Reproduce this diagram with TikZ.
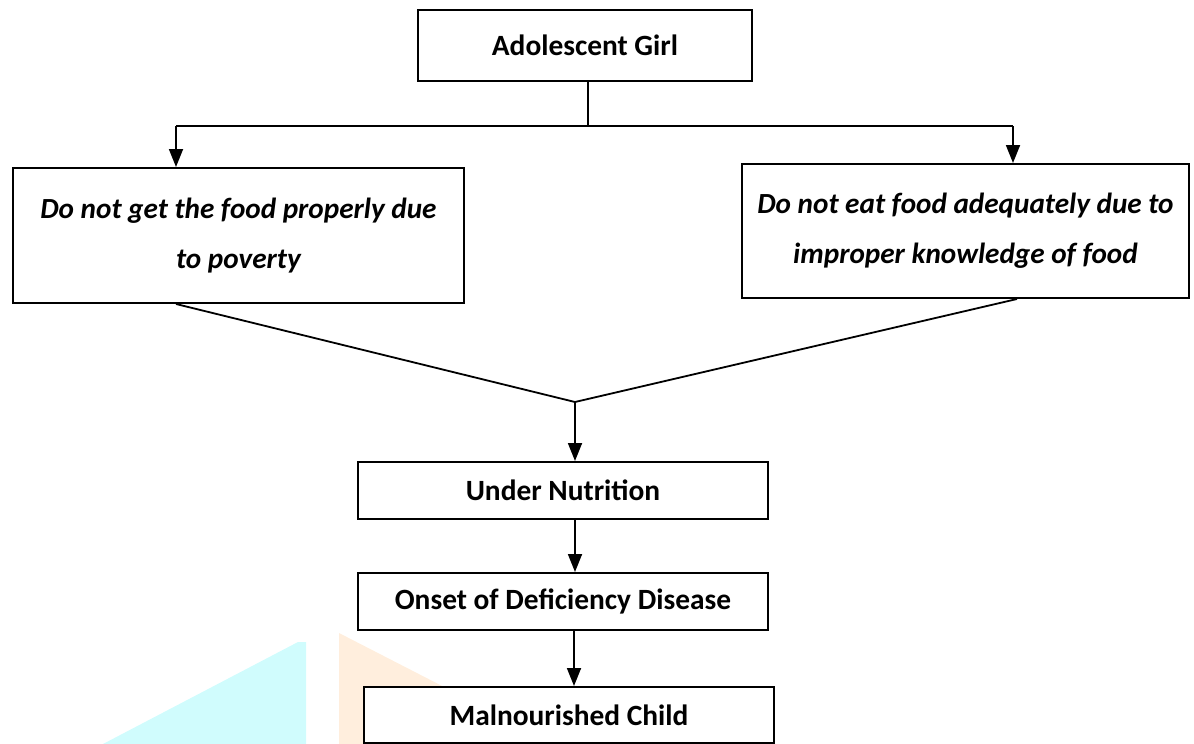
\documentclass[tikz,border=0pt]{standalone}
\usepackage{fontspec}
\setmainfont{Carlito}
\usetikzlibrary{arrows.meta}
\definecolor{markcyan}{RGB}{208,252,253}
\definecolor{markorange}{RGB}{255,238,221}

\begin{document}
\begin{tikzpicture}[x=0.5pt,y=-0.5pt,
  box/.style={draw,line width=1pt,fill=white,inner sep=0pt,align=center},
  main/.style={box,font=\fontsize{14.7}{18}\selectfont\bfseries},
  cause/.style={box,font=\fontsize{14.6}{25}\selectfont\bfseries\itshape},
  link/.style={line width=0.9pt},
  arrow/.style={link,-{Triangle[length=9pt,width=7pt]}}]
\useasboundingbox (0,0) rectangle (1194,744);

% watermark
\fill[markcyan] (103,744) -- (298,642) -- (306,642) -- (306,744) -- cycle;
\fill[markorange] (339,633) -- (555,744) -- (339,744) -- cycle;

% top
\node[main,minimum width=167pt,minimum height=35.5pt] (girl) at (585,45.5) {Adolescent Girl};
\coordinate (split) at (588,126);
\coordinate (lsplit) at (176,126);
\coordinate (rsplit) at (1013,126);

% causes
\node[cause,minimum width=225.5pt,minimum height=67.5pt] (poverty) at (238.5,235.5)
  {Do not get the food properly due\\to poverty};
\node[cause,minimum width=223.5pt,minimum height=67pt] (knowledge) at (965.5,231)
  {Do not eat food adequately due to\\improper knowledge of food};
\coordinate (join) at (575,402);

% results
\node[main,minimum width=205pt,minimum height=28.5pt] (under) at (563,490.5) {Under Nutrition};
\node[main,minimum width=205pt,minimum height=28.5pt] (onset) at (563,601.5) {Onset of Deficiency Disease};
\node[main,minimum width=205pt,minimum height=28pt] (child) at (569,715) {Malnourished Child};

% connectors
\draw[link] (girl.south -| split) -- (split);
\draw[link] (lsplit) -- (rsplit);
\draw[arrow] (lsplit) -- (lsplit |- poverty.north);
\draw[arrow] (rsplit) -- (rsplit |- knowledge.north);
\draw[link] (poverty.south -| lsplit) -- (join) -- ([xshift=2pt]knowledge.south -| rsplit);
\draw[arrow] (join) -- (join |- under.north);
\draw[arrow] (under.south -| join) -- (onset.north -| join);
\draw[arrow] ([xshift=-0.5pt]onset.south -| join) -- ([xshift=-0.5pt]child.north -| join);
\end{tikzpicture}
\end{document}
